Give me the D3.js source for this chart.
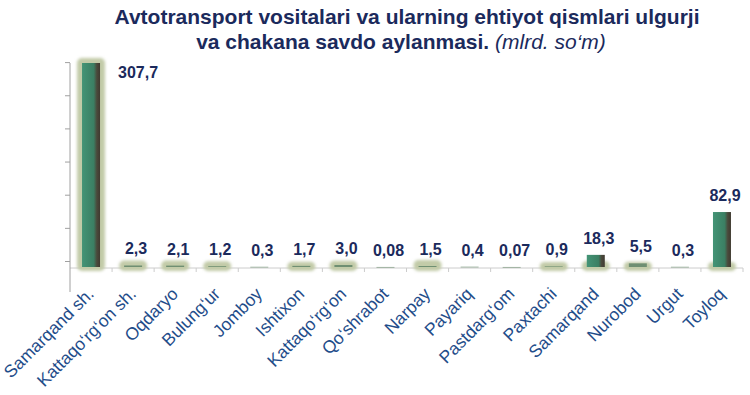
<!DOCTYPE html>
<html>
<head>
<meta charset="UTF-8">
<title>Avtotransport savdo aylanmasi</title>
<style>
html, body {
    margin: 0;
    padding: 0;
    background-color: #ffffff;
}
svg {
    display: block;
    font-family: "Liberation Sans", Arial, sans-serif;
}
.title {
    fill: #1b2a5c;
    font-size: 21px;
    font-weight: bold;
}
.value {
    fill: #1b2a5c;
    font-size: 16px;
    font-weight: bold;
}
.cat {
    fill: #1f4d8a;
    font-size: 17.5px;
}
.axis path, .axis line {
    stroke: #a0a0a0;
}
</style>
</head>
<body>
<svg id="chart" width="750" height="395"></svg>
<script src="https://cdn.jsdelivr.net/npm/d3@7/dist/d3.min.js"></script>
<script>
const categories = ['Samarqand sh.', 'Kattaqo\u2018rg\u2018on sh.', 'Oqdaryo', 'Bulung\u2018ur', 'Jomboy',
    'Ishtixon', 'Kattaqo\u2018rg\u2018on', 'Qo\u2018shrabot', 'Narpay', 'Payariq', 'Pastdarg\u2018om',
    'Paxtachi', 'Samarqand', 'Nurobod', 'Urgut', 'Toyloq'];
const values = [307.7, 2.3, 2.1, 1.2, 0.3, 1.7, 3.0, 0.08, 1.5, 0.4, 0.07, 0.9, 18.3, 5.5, 0.3, 82.9];
const valueLabels = ['307,7', '2,3', '2,1', '1,2', '0,3', '1,7', '3,0', '0,08', '1,5', '0,4', '0,07',
    '0,9', '18,3', '5,5', '0,3', '82,9'];
const yTicks = [0, 50, 100, 150, 200, 250, 300];

let svg = d3.select('#chart');
let plotLeft = 70, plotRight = 743, plotTop = 63, base = 267;

// title
let title = svg.append('text').attr('class', 'title').attr('text-anchor', 'middle');
title.append('tspan').attr('x', 407).attr('y', 24)
    .text('Avtotransport vositalari va ularning ehtiyot qismlari ulgurji');
let t2 = title.append('tspan').attr('x', 401).attr('y', 49);
t2.append('tspan').text('va chakana savdo aylanmasi. ');
t2.append('tspan').attr('font-weight', 'normal').attr('font-style', 'italic').text('(mlrd. so\u2018m)');

let x = d3.scaleBand().domain(categories).range([plotLeft, plotRight]);
let y = d3.scaleLinear().domain([0, 307.7]).range([base, plotTop]);

let defs = svg.append('defs');
let grad = defs.append('linearGradient').attr('id', 'barGrad');
grad.append('stop').attr('offset', '0%').attr('stop-color', '#449476');
grad.append('stop').attr('offset', '65%').attr('stop-color', '#3b7f63');
grad.append('stop').attr('offset', '82%').attr('stop-color', '#4a4a3c');
grad.append('stop').attr('offset', '100%').attr('stop-color', '#3f3a30');
defs.append('filter').attr('id', 'glow')
    .attr('x', '-50%').attr('y', '-50%').attr('width', '200%').attr('height', '200%')
    .append('feGaussianBlur').attr('stdDeviation', 1.7);

// floor line with ticks between categories
svg.append('line')
    .attr('x1', plotLeft).attr('x2', plotRight)
    .attr('y1', base + 1).attr('y2', base + 1)
    .attr('stroke', '#cccccc');
svg.selectAll('.ftick')
    .data(categories.slice(1))
    .join('line')
    .attr('x1', d => x(d)).attr('x2', d => x(d))
    .attr('y1', base + 1).attr('y2', base + 5)
    .attr('stroke', '#cccccc');
svg.append('line')
    .attr('x1', plotRight).attr('x2', plotRight)
    .attr('y1', base + 1).attr('y2', base + 5)
    .attr('stroke', '#cccccc');

// y axis (no labels), drawn a bit behind the floor
let yAxis = d3.axisLeft(y).tickValues(yTicks).tickSize(5).tickFormat('').tickSizeOuter(0);
let ag = svg.append('g').attr('class', 'axis')
    .attr('transform', `translate(${plotLeft},-6)`)
    .call(yAxis);
ag.select('.domain').remove();
svg.append('line')
    .attr('x1', plotLeft).attr('x2', plotLeft)
    .attr('y1', plotTop).attr('y2', 292)
    .attr('stroke', '#a0a0a0');

let bw = 18;
let bars = svg.selectAll('.bar')
    .data(categories)
    .join('g')
    .attr('class', 'bar');

// halo
bars.filter((d, i) => values[i] >= 0.5)
    .append('rect')
    .attr('x', d => x(d) + x.bandwidth() / 2 - bw / 2 - 5)
    .attr('width', bw + 10)
    .attr('y', (d, i) => y(values[i]) - 5)
    .attr('height', (d, i) => base - y(values[i]) + 9)
    .attr('rx', 5)
    .attr('fill', '#c2cba8')
    .attr('filter', 'url(#glow)');

bars.append('rect')
    .attr('x', d => x(d) + x.bandwidth() / 2 - bw / 2)
    .attr('width', bw)
    .attr('y', (d, i) => y(values[i]))
    .attr('height', (d, i) => Math.max(0.6, base - y(values[i])))
    .attr('fill', (d, i) => values[i] < 10 ? '#6f8f72' : 'url(#barGrad)');

// value labels
svg.selectAll('.value')
    .data(categories)
    .join('text')
    .attr('class', 'value')
    .attr('text-anchor', (d, i) => i === 0 ? 'start' : 'middle')
    .attr('x', (d, i) => i === 0 ? x(d) + x.bandwidth() / 2 + 27 : x(d) + x.bandwidth() / 2 + 3)
    .attr('y', (d, i) => i === 0 ? y(values[i]) + 15 : Math.min(y(values[i]) - 11, base - 11))
    .text((d, i) => valueLabels[i]);

// category labels
svg.selectAll('.cat')
    .data(categories)
    .join('text')
    .attr('class', 'cat')
    .attr('text-anchor', 'end')
    .attr('transform', d => `translate(${x(d) + x.bandwidth() / 2 + 4},${base + 28}) rotate(-45)`)
    .text(d => d);
</script>
</body>
</html>
